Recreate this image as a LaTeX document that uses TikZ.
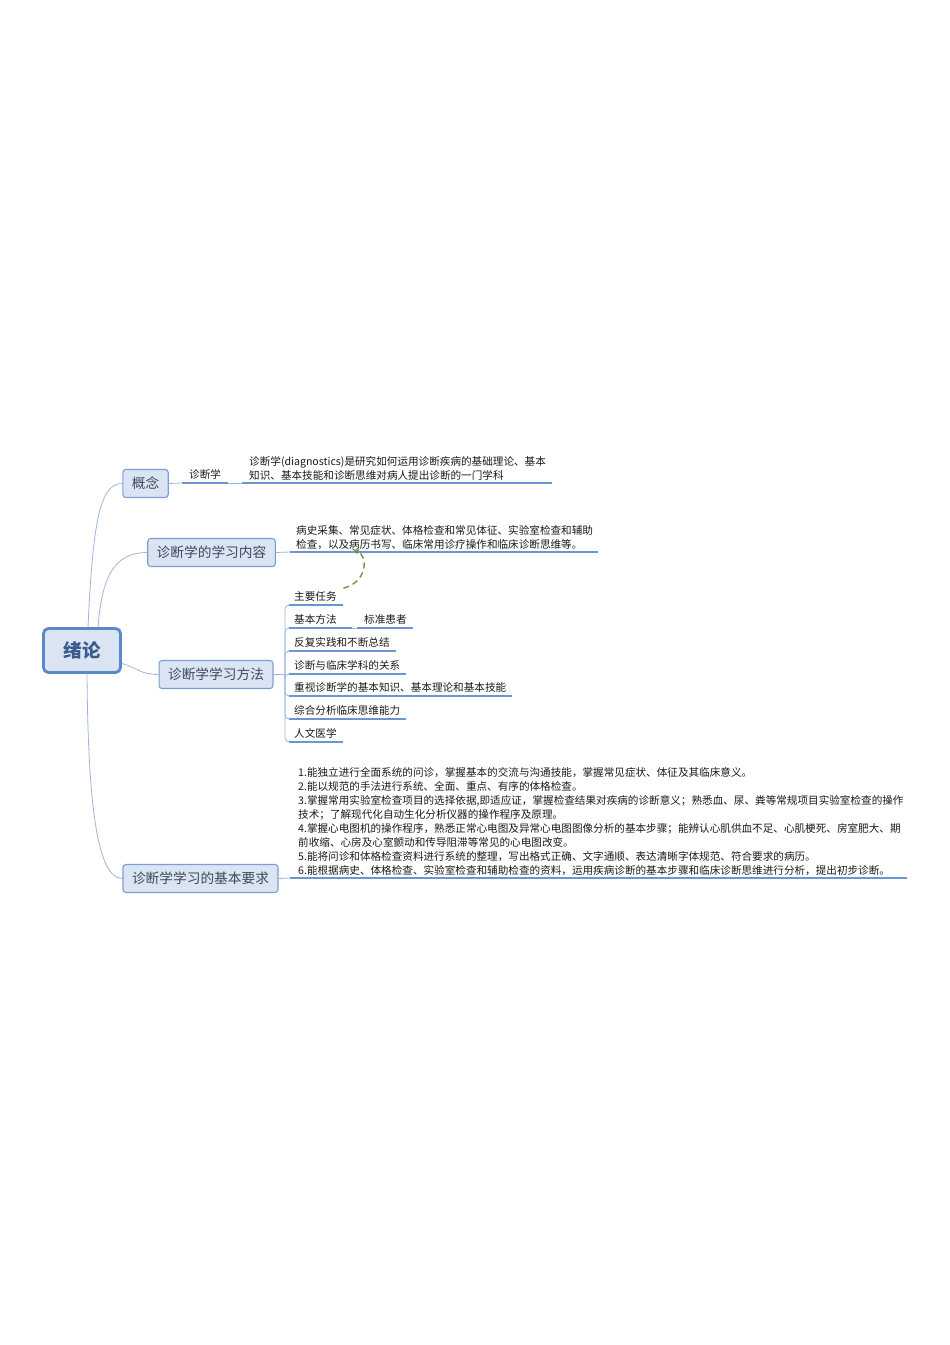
\documentclass[tikz,border=0pt]{standalone}
\usepackage{fontspec}
\setmainfont{Noto Sans CJK SC}
\usetikzlibrary{arrows}
\hyphenpenalty=10000
\exhyphenpenalty=10000

\definecolor{boxfill}{HTML}{DAE4F2}
\definecolor{boxline}{HTML}{7B9FD4}
\definecolor{rootline}{HTML}{5A89CB}
\definecolor{boxtext}{HTML}{3B4A5E}
\definecolor{roottext}{HTML}{3B5B8C}
\definecolor{ulcolor}{HTML}{6C96D2}
\definecolor{conncolor}{HTML}{9BB5DB}
\definecolor{linkgreen}{HTML}{7A9445}

\tikzset{
  topic/.style={draw=boxline, fill=boxfill, rounded corners=3pt, line width=1.1pt,
    inner xsep=9pt, minimum height=28pt, text=boxtext, font=\fontsize{13.7}{16}\selectfont},
  root/.style={topic, draw=rootline, line width=2.8pt, rounded corners=5pt,
    minimum width=77pt, minimum height=44pt, text=roottext, font=\fontsize{18.5}{20}\selectfont\bfseries},
  leaf/.style={anchor=south west, inner xsep=7pt, inner ysep=3pt,
    align=left, text=black!90, font=\fontsize{10.6}{14}\selectfont},
  leafone/.style={leaf, text depth=1.5pt},
  uline/.style={draw=ulcolor, line width=1.8pt},
  conn/.style={draw=conncolor, line width=0.8pt},
  link/.style={draw=linkgreen, line width=1.4pt, dash pattern=on 6pt off 4pt, -latex}
}

\begin{document}
\begin{tikzpicture}[x=1pt,y=-1pt]
\useasboundingbox (0,0) rectangle (950,1345);
% central topic
\node[root] (xl) at (82,650.5) {绪论};
% main branches
\node[topic] (gn) at (145.5,483.5) {概念};
\node[topic] (nr) at (211.5,552.5) {诊断学的学习内容};
\node[topic] (ff) at (216,674.5) {诊断学学习方法};
\node[topic] (yq) at (200.5,878.5) {诊断学学习的基本要求};

\draw[conn] ([xshift=6pt]xl.north) .. controls (93,520) and (100,483.5) .. (gn.west);
\draw[conn] ([xshift=16pt]xl.north) .. controls (102,575) and (115,552.5) .. (nr.west);
\draw[conn] ([yshift=-13pt]xl.east) .. controls (138,668) and (140,674.5) .. (ff.west);
\draw[conn] ([xshift=5pt]xl.south) .. controls (88,790) and (95,878.5) .. (yq.west);

% concept
\node[leafone,text width=32pt] (zds) at (182,483) {诊断学};
\node[leaf,inner ysep=2.5pt,text width=296pt] (dy) at (242,483) {诊断学(diagnostics)是研究如何运用诊断疾病的基础理论、基本\\知识、基本技能和诊断思维对病人提出诊断的一门学科};
\draw[conn] (gn.east) -- (zds.south west);
\draw[conn] (zds.south east) -- (dy.south west);

% content
\node[leaf,inner xsep=6pt,inner ysep=2.5pt,text width=296pt] (nrt) at (290,552) {病史采集、常见症状、体格检查和常见体征、实验室检查和辅助\\检查，以及病历书写、临床常用诊疗操作和临床诊断思维等。};
\draw[conn] (nr.east) -- (nrt.south west);

% methods
\coordinate (fz) at (285,674.5);
\node[leafone,inner xsep=5pt,text width=44pt] (zyrw) at (289,605) {主要任务};
\node[leafone,inner xsep=5pt,text width=53pt] (jbff) at (289,628) {基本方法};
\node[leafone,text width=42pt] (bzhz) at (357,628) {标准患者};
\node[leafone,inner xsep=5pt,text width=97pt] (ffsj) at (289,651) {反复实践和不断总结};
\node[leafone,inner xsep=5pt,text width=107pt] (zdlc) at (289,674) {诊断与临床学科的关系};
\node[leafone,inner xsep=5pt,text width=213pt] (zsjc) at (289,696) {重视诊断学的基本知识、基本理论和基本技能};
\node[leafone,inner xsep=5pt,text width=107pt] (zhfx) at (289,719) {综合分析临床思维能力};
\node[leafone,inner xsep=5pt,text width=44pt] (rwyx) at (289,742) {人文医学};
\draw[conn] (ff.east) -- (fz);
\foreach \n in {zyrw,jbff,ffsj,zdlc,zsjc,zhfx,rwyx}
  \draw[conn,rounded corners=4pt] (fz) |- (\n.south west);
\draw[conn] (jbff.south east) -- (bzhz.south west);

% requirements
\node[leaf,inner xsep=8pt,inner ysep=2.5pt,text width=601pt] (yqt) at (290,878) {1.能独立进行全面系统的问诊，掌握基本的交流与沟通技能，掌握常见症状、体征及其临床意义。\\
2.能以规范的手法进行系统、全面、重点、有序的体格检查。\\
3.掌握常用实验室检查项目的选择依据,即适应证，掌握检查结果对疾病的诊断意义；熟悉血、尿、粪等常规项目实验室检查的操作\\
技术；了解现代化自动生化分析仪器的操作程序及原理。\\
4.掌握心电图机的操作程序，熟悉正常心电图及异常心电图图像分析的基本步骤；能辨认心肌供血不足、心肌梗死、房室肥大、期\\
前收缩、心房及心室颤动和传导阻滞等常见的心电图改变。\\
5.能将问诊和体格检查资料进行系统的整理，写出格式正确、文字通顺、表达清晰字体规范、符合要求的病历。\\
6.能根据病史、体格检查、实验室检查和辅助检查的资料，运用疾病诊断的基本步骤和临床诊断思维进行分析，提出初步诊断。};
\draw[conn] (yq.east) -- (yqt.south west);

% underlines
\foreach \n in {zds,dy,nrt,zyrw,jbff,bzhz,ffsj,zdlc,zsjc,zhfx,rwyx,yqt}
  \draw[uline] (\n.south west) -- (\n.south east);

% dashed link
\draw[link] (zyrw.north east) .. controls (368,582) and (368,556) .. ([shift={(62,-3)}]nrt.south west);
\end{tikzpicture}
\end{document}
